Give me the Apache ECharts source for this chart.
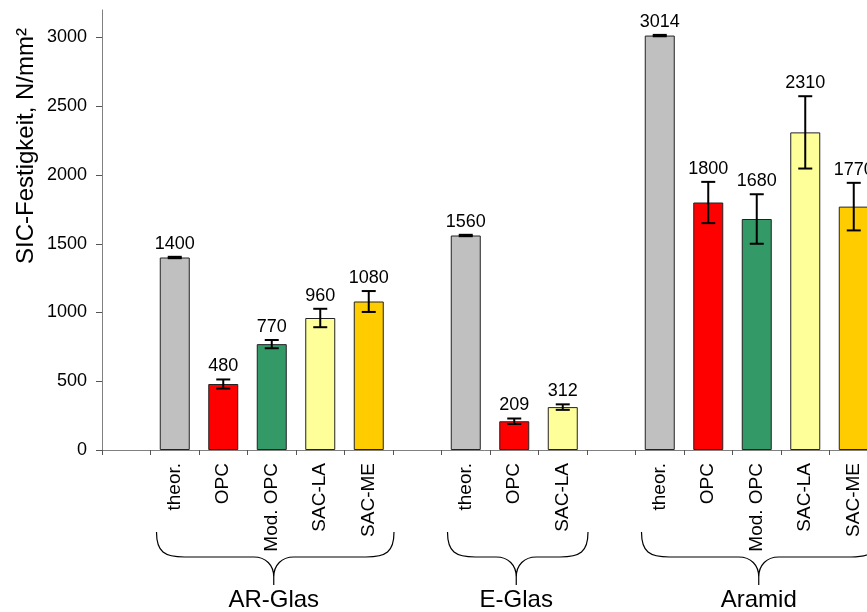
<!DOCTYPE html>
<html>
<head>
<meta charset="utf-8">
<title>SIC-Festigkeit</title>
<script src="https://cdn.jsdelivr.net/npm/echarts@6/dist/echarts.min.js"></script>
<style>
  html, body { margin: 0; padding: 0; background: #fff; }
  #chart { width: 867px; height: 612px; }
</style>
</head>
<body>
<div id="chart"></div>
<script>
// Category slots along the x axis; empty strings are spacer slots between fibre groups
const categories = ['', 'theor.', 'OPC', 'Mod. OPC', 'SAC-LA', 'SAC-ME', '', 'theor.', 'OPC', 'SAC-LA', '', 'theor.', 'OPC', 'Mod. OPC', 'SAC-LA', 'SAC-ME'];
// Mean SIC strength per slot (N/mm²)
const strength = [null, 1400, 480, 770, 960, 1080, null, 1560, 209, 312, null, 3014, 1800, 1680, 2310, 1770];
// Standard deviation per slot (N/mm²)
const deviation = [null, 5, 33, 30, 67, 76, null, 5, 20, 20, null, 5, 150, 180, 263, 173];
// Fibre groups: name, first and last slot index
const groupNames = ['AR-Glas', 'E-Glas', 'Aramid'];
const groupFrom = [1, 7, 11];
const groupTo = [5, 9, 15];
const yTicks = [0, 500, 1000, 1500, 2000, 2500, 3000];

const matrixColors = {
  'theor.': '#C0C0C0',
  'OPC': '#FF0000',
  'Mod. OPC': '#339966',
  'SAC-LA': '#FFFF99',
  'SAC-ME': '#FFCC00'
};

const FONT = "'Liberation Sans', Arial, sans-serif";

const barData = strength.map((v, i) => v == null ? null : {
  value: v,
  itemStyle: { color: matrixColors[categories[i]] }
});

const errData = [];
strength.forEach((v, i) => { if (v != null) errData.push([i, v, deviation[i]]); });

const groupData = groupNames.map((n, k) => [groupFrom[k], groupTo[k], n]);

// Curly brace under a group: left end L, right end R, cusp at M
function bracePath(L, R, M, y0) {
  const y1 = y0 + 25, y2 = y0 + 45, y3 = y0 + 53;
  return [
    'M', L, y0,
    'C', L, y1 - 5, L + 8, y1, L + 28, y1,
    'L', M - 20, y1,
    'C', M - 8, y1, M, y1 + 8, M, y2,
    'L', M, y3,
    'M', M, y2,
    'C', M, y1 + 8, M + 8, y1, M + 20, y1,
    'L', R - 28, y1,
    'C', R - 8, y1, R, y1 - 5, R, y0
  ].join(' ');
}

const chart = echarts.init(document.getElementById('chart'), null, { renderer: 'canvas' });

chart.setOption({
  animation: false,
  backgroundColor: '#fff',
  grid: { left: 102, top: 10, width: 776, height: 440, containLabel: false, outerBoundsMode: 'none' },
  xAxis: {
    type: 'category',
    data: categories.map((c, i) => String(i)),
    boundaryGap: true,
    axisLine: { show: true, lineStyle: { color: '#808080', width: 1 } },
    axisTick: { show: true, interval: 0, length: 5, lineStyle: { color: '#555' } },
    axisLabel: {
      interval: 0,
      rotate: 90,
      margin: 13,
      fontSize: 19,
      color: '#000',
      fontFamily: FONT,
      formatter: v => categories[+v]
    }
  },
  yAxis: {
    type: 'value',
    min: 0,
    max: 3200,
    interval: 500,
    splitLine: { show: false },
    axisLine: { show: true, lineStyle: { color: '#808080', width: 1 } },
    axisTick: { show: true, length: 6, customValues: yTicks, lineStyle: { color: '#555' } },
    axisLabel: {
      customValues: yTicks,
      margin: 15,
      fontSize: 18,
      color: '#000',
      fontFamily: FONT,
      formatter: v => (v % 500 === 0 ? String(v) : '')
    }
  },
  graphic: {
    elements: [{
      type: 'text',
      x: 26,
      y: 146,
      rotation: Math.PI / 2,
      silent: true,
      style: {
        text: 'SIC-Festigkeit, N/mm²',
        fill: '#000',
        font: '24px ' + FONT,
        textAlign: 'center',
        textVerticalAlign: 'middle'
      }
    }]
  },
  series: [
    {
      type: 'bar',
      data: barData,
      barWidth: 30,
      itemStyle: { borderColor: '#222', borderWidth: 1 },
      silent: true
    },
    {
      // error bars with the mean value written above each one
      type: 'custom',
      data: errData,
      silent: true,
      z: 5,
      renderItem: function (params, api) {
        const idx = api.value(0);
        const v = api.value(1);
        const e = api.value(2);
        const hi = api.coord([idx, v + e]);
        const lo = api.coord([idx, v - e]);
        const cap = 7;
        const st = { stroke: '#000', lineWidth: 2 };
        return {
          type: 'group',
          children: [
            { type: 'line', shape: { x1: hi[0], y1: hi[1], x2: lo[0], y2: lo[1] }, style: st },
            { type: 'line', shape: { x1: hi[0] - cap, y1: hi[1], x2: hi[0] + cap, y2: hi[1] }, style: st },
            { type: 'line', shape: { x1: lo[0] - cap, y1: lo[1], x2: lo[0] + cap, y2: lo[1] }, style: st },
            {
              type: 'text',
              x: hi[0],
              y: hi[1] - 4,
              style: {
                text: String(v),
                fill: '#000',
                font: '18px ' + FONT,
                textAlign: 'center',
                textVerticalAlign: 'bottom'
              }
            }
          ]
        };
      }
    },
    {
      // group braces and fibre names below the category labels
      type: 'custom',
      data: groupData,
      silent: true,
      clip: false,
      encode: { x: [0, 1] },
      renderItem: function (params, api) {
        const a = api.coord([api.value(0), 0]);
        const b = api.coord([api.value(1), 0]);
        const slot = api.size([1, 0])[0];
        const L = a[0] - slot / 2 + 6;
        const R = b[0] + slot / 2 + 1;
        const M = (a[0] + b[0]) / 2 + 2;
        const top = a[1] + 82;
        return {
          type: 'group',
          children: [
            {
              type: 'path',
              shape: { pathData: bracePath(L, R, M, top) },
              style: { fill: null, stroke: '#000', lineWidth: 1.2 }
            },
            {
              type: 'text',
              x: M,
              y: top + 68,
              style: {
                text: groupNames[params.dataIndex],
                fill: '#000',
                font: '24px ' + FONT,
                textAlign: 'center',
                textVerticalAlign: 'middle'
              }
            }
          ]
        };
      }
    }
  ]
});
</script>
</body>
</html>
